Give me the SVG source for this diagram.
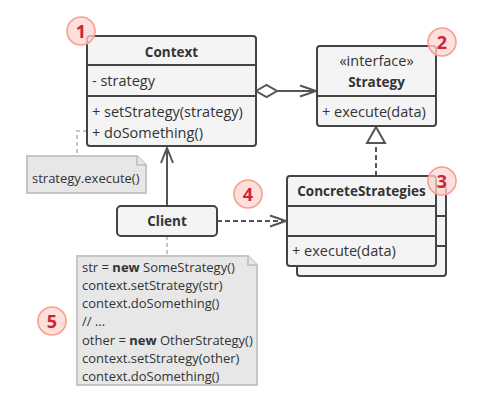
<svg xmlns="http://www.w3.org/2000/svg" width="483" height="413" viewBox="0 0 483 413">
<defs>
<style>
.box{fill:#f4f4f4;stroke:#444;stroke-width:2}
.div{stroke:#444;stroke-width:2;fill:none}
.t{font-family:"Open Sans","Noto Sans",sans-serif;font-size:14.5px;fill:#333}
.b{font-family:"Open Sans","Noto Sans",sans-serif;font-size:13.5px;font-weight:bold;fill:#333}
.n{font-family:"Open Sans","Noto Sans",sans-serif;font-size:13px;fill:#333}
.note{fill:#e7e7e7;stroke:#c6c6c6;stroke-width:2}
.ln{stroke:#555;stroke-width:2;fill:none}
.dash{stroke:#555;stroke-width:2;fill:none;stroke-dasharray:5 3}
.gd{stroke:#c6c6c6;stroke-width:2;fill:none;stroke-dasharray:4 3}
.badge circle{fill:#fcd6cf;fill-opacity:0.75;stroke:#f7a08f;stroke-width:1.6}
.badge text{font-family:"Open Sans","Noto Sans",sans-serif;font-size:18px;font-weight:bold;fill:#cf2437;text-anchor:middle}
</style>
</defs>
<rect width="483" height="413" fill="#ffffff"/>
<g id="connectors">
<path class="gd" d="M87,131 H77 V156"/>
<path class="gd" d="M167,236 V256"/>
<path class="ln" d="M277,91 H315"/>
<path class="ln" d="M300,85.5 L316,91 L300,96.5"/>
<path class="ln" d="M256,91 L266.5,85 L277,91 L266.5,97 Z" fill="#fff"/>
<path class="dash" d="M376,176 V143"/>
<path class="ln" d="M376,127 L367,143 H385 Z" style="fill:#fff"/>
<path class="ln" d="M167,206 V149"/>
<path class="ln" d="M161,163 L167,148 L173,163"/>
<path class="dash" d="M217,221 H284"/>
<path class="ln" d="M270,215.5 L286,221 L270,226.5"/>
</g>
<g id="context">
<rect class="box" x="87" y="36" width="169" height="110" rx="3"/>
<path class="div" d="M87,65 H256 M87,96 H256"/>
<text class="b" x="171.5" y="57" text-anchor="middle">Context</text>
<text class="t" x="92" y="86">- strategy</text>
<text class="t" x="92" y="117">+ setStrategy(strategy)</text>
<text class="t" x="92" y="138">+ doSomething()</text>
</g>
<g id="strategy">
<rect class="box" x="317" y="46" width="119" height="80" rx="3"/>
<path class="div" d="M317,96 H436"/>
<text class="t" x="376.5" y="66" text-anchor="middle">«interface»</text>
<text class="b" x="376.5" y="87" text-anchor="middle">Strategy</text>
<text class="t" x="322" y="117">+ execute(data)</text>
</g>
<g id="concrete-strategies">
<rect class="box" x="297" y="186" width="149" height="90" rx="3"/>
<path class="div" d="M297,216 H446 M297,246 H446"/>
<rect class="box" x="287" y="176" width="149" height="90" rx="3"/>
<path class="div" d="M287,206 H436 M287,236 H436"/>
<text class="b" x="361.5" y="196" text-anchor="middle">ConcreteStrategies</text>
<text class="t" x="292" y="256">+ execute(data)</text>
</g>
<g id="client">
<rect class="box" x="117" y="206" width="100" height="30" rx="4"/>
<text class="b" x="167" y="226" text-anchor="middle">Client</text>
</g>
<g id="note-execute">
<path class="note" d="M27,156 H137 L146,165 V193 H27 Z"/>
<path class="note" d="M137,156 V165 H146"/>
<text class="n" x="32" y="183">strategy.execute()</text>
</g>
<g id="note-client">
<path class="note" d="M77,256 H248 L257,265 V385 H77 Z"/>
<path class="note" d="M248,256 V265 H257"/>
<text class="n" x="82" y="272">str = <tspan font-weight="bold">new</tspan> SomeStrategy()</text>
<text class="n" x="82" y="290">context.setStrategy(str)</text>
<text class="n" x="82" y="308">context.doSomething()</text>
<text class="n" x="82" y="326">// ...</text>
<text class="n" x="82" y="344.5">other = <tspan font-weight="bold">new</tspan> OtherStrategy()</text>
<text class="n" x="82" y="362.5">context.setStrategy(other)</text>
<text class="n" x="82" y="380.5">context.doSomething()</text>
</g>
<g id="badge1" class="badge"><circle cx="81" cy="31" r="14"/><text x="81" y="37.5">1</text></g>
<g id="badge2" class="badge"><circle cx="442" cy="42" r="14"/><text x="442" y="48.5">2</text></g>
<g id="badge3" class="badge"><circle cx="442" cy="181" r="14"/><text x="442" y="187.5">3</text></g>
<g id="badge4" class="badge"><circle cx="248" cy="194" r="14"/><text x="248" y="200.5">4</text></g>
<g id="badge5" class="badge"><circle cx="52" cy="321" r="14"/><text x="52" y="327.5">5</text></g>
</svg>
